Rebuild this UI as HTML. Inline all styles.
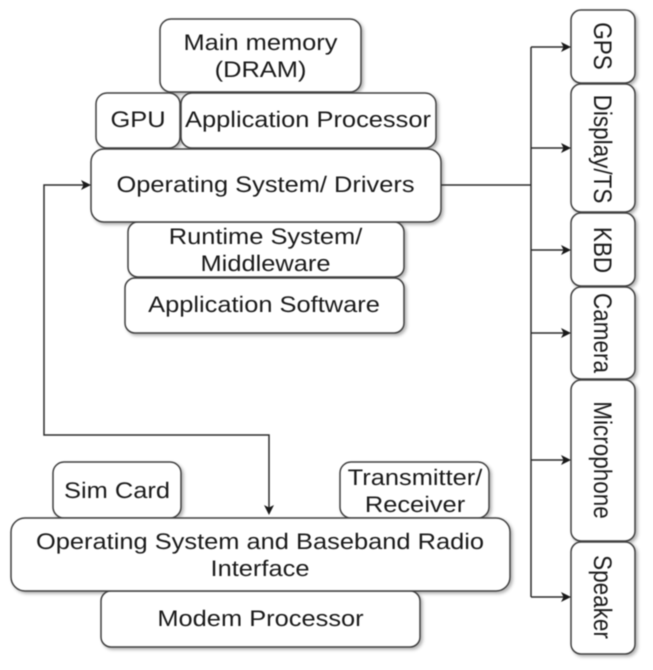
<!DOCTYPE html>
<html>
<head>
<meta charset="utf-8">
<style>
html,body{margin:0;padding:0;background:#fff;}
svg{display:block;filter:blur(0.4px);}
text{font-family:"Liberation Sans",Arial,sans-serif;font-size:22.5px;fill:#1a1a1a;text-anchor:middle;text-rendering:geometricPrecision;}
rect{fill:#fff;stroke:#404040;stroke-width:1.5;}
.l{fill:none;stroke:#2c2c2c;stroke-width:1.5;}
.a{fill:#1a1a1a;stroke:none;}
</style>
</head>
<body>
<svg width="653" height="670" viewBox="0 0 653 670" xmlns="http://www.w3.org/2000/svg">
<defs>
<filter id="s" x="-10%" y="-10%" width="120%" height="125%">
<feDropShadow dx="2" dy="2" stdDeviation="1.5" flood-color="#000" flood-opacity="0.3"/>
</filter>
</defs>
<rect width="653" height="670" style="fill:#fff;stroke:none"/>

<g filter="url(#s)">
<rect x="160" y="19" width="201" height="73" rx="11"/>
<rect x="96" y="93" width="84" height="55" rx="11"/>
<rect x="181" y="93" width="255" height="55" rx="11"/>
<rect x="128" y="222" width="276" height="55" rx="10"/>
<rect x="125" y="278" width="279" height="55" rx="10"/>
<rect x="91" y="149" width="350" height="73" rx="13"/>
<rect x="571" y="10" width="64" height="73" rx="10"/>
<rect x="571" y="84" width="64" height="128" rx="10"/>
<rect x="571" y="213" width="64" height="73" rx="10"/>
<rect x="571" y="287" width="64" height="92" rx="10"/>
<rect x="571" y="380" width="64" height="161" rx="10"/>
<rect x="571" y="542" width="64" height="112" rx="10"/>
<rect x="53" y="462" width="128" height="56" rx="11"/>
<rect x="340" y="462" width="149" height="56" rx="11"/>
<rect x="101" y="591" width="319" height="56" rx="10"/>
<rect x="11" y="518" width="499" height="73" rx="14"/>
</g>

<path class="l" d="M441 185H531M531 47V597M531 47H564M531 148H564M531 250H564M531 333H564M531 460H564M531 597H564"/>
<path class="a" d="M571 47l-10-5 2.5 5-2.5 5zM571 148l-10-5 2.5 5-2.5 5zM571 250l-10-5 2.5 5-2.5 5zM571 333l-10-5 2.5 5-2.5 5zM571 460l-10-5 2.5 5-2.5 5zM571 597l-10-5 2.5 5-2.5 5z"/>

<path class="l" d="M84 185H44V435H269V508"/>
<path class="a" d="M91 185l-10-5 2.5 5-2.5 5z"/>
<path class="a" d="M269 515l-5-10 5 2.5 5-2.5z"/>

<text transform="translate(260.5,50) scale(1.13,1)">Main memory</text>
<text transform="translate(260.5,77) scale(1.13,1)">(DRAM)</text>
<text transform="translate(138,127) scale(1.13,1)">GPU</text>
<text transform="translate(308,127) scale(1.13,1)">Application Processor</text>
<text transform="translate(265.5,192) scale(1.13,1)">Operating System/ Drivers</text>
<text transform="translate(265.5,244) scale(1.13,1)">Runtime System/</text>
<text transform="translate(265.5,271) scale(1.13,1)">Middleware</text>
<text transform="translate(264,312) scale(1.13,1)">Application Software</text>
<text transform="translate(117,498) scale(1.13,1)">Sim Card</text>
<text transform="translate(415,485) scale(1.13,1)">Transmitter/</text>
<text transform="translate(415,512) scale(1.13,1)">Receiver</text>
<text transform="translate(260,549) scale(1.13,1)">Operating System and Baseband Radio</text>
<text transform="translate(260,576) scale(1.13,1)">Interface</text>
<text transform="translate(260.5,626) scale(1.13,1)">Modem Processor</text>

<text transform="translate(594,46) scale(1.13,1) rotate(90)">GPS</text>
<text transform="translate(594,149) scale(1.13,1) rotate(90)">Display/TS</text>
<text transform="translate(594,250) scale(1.13,1) rotate(90)">KBD</text>
<text transform="translate(594,333) scale(1.13,1) rotate(90)">Camera</text>
<text transform="translate(594,460) scale(1.13,1) rotate(90)">Microphone</text>
<text transform="translate(594,597) scale(1.13,1) rotate(90)">Speaker</text>
</svg>
</body>
</html>
